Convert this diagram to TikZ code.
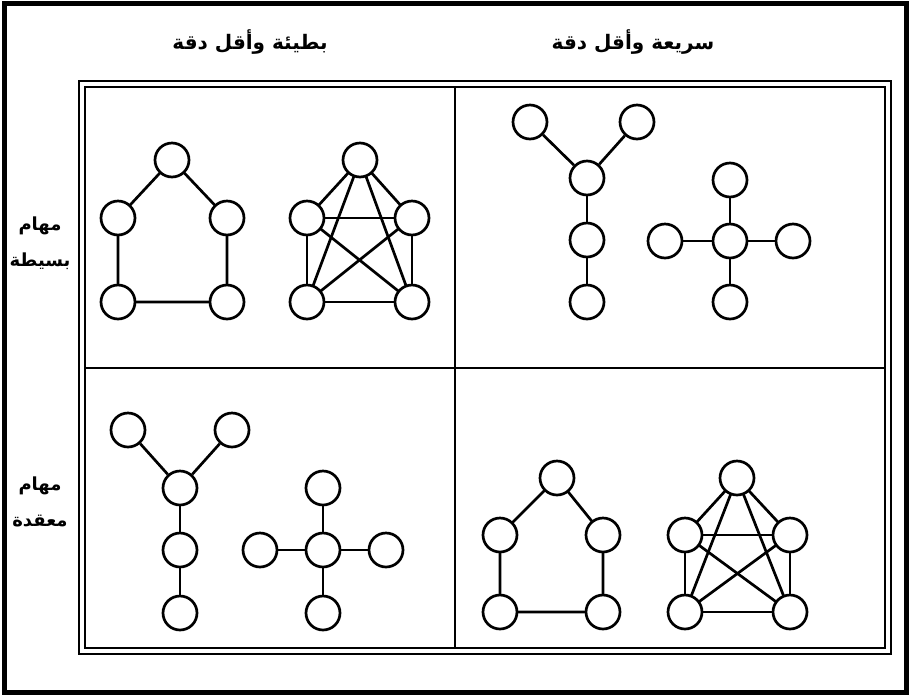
\documentclass[tikz,border=0pt]{standalone}
\usepackage{fontspec}
\TeXXeTstate=1
\newfontfamily\arabicfont[Script=Arabic]{DejaVu Sans}

\tikzset{
  vertex/.style={draw, circle, line width=2.7pt, minimum size=34pt, inner sep=0pt, fill=white},
  edge/.style={line width=2.7pt},
  label_ar/.style={font=\arabicfont\bfseries\fontsize{20}{26}\selectfont, align=center},
  side_ar/.style={font=\arabicfont\bfseries\fontsize{18}{36}\selectfont, align=center}
}

\begin{document}
\begin{tikzpicture}[x=1pt, y=-1pt]
\useasboundingbox (0,0) rectangle (910,697);
\draw[line width=5pt] (4,3) rectangle (906,692);
% double frame and quadrants
\draw[line width=2.2pt] (79,81) rectangle (891,654);
\draw[line width=2.2pt] (85,87) rectangle (885,648);
\draw[line width=2.2pt] (455,87) -- (455,648);
\draw[line width=2.2pt] (85,368) -- (885,368);

% headings
\node[label_ar] (slow_head) at (250,42) {\beginR بطيئة وأقل دقة\endR};
\node[label_ar] (fast_head) at (633,42) {\beginR سريعة وأقل دقة\endR};
\node[side_ar] (simple_tasks) at (40,243) {\beginR مهام\endR\\\beginR بسيطة\endR};
\node[side_ar] (complex_tasks) at (40,502) {\beginR مهام\endR\\\beginR معقدة\endR};

% top left: circle
\draw[edge] (172,160) -- (118,218) -- (118,302) -- (227,302) -- (227,218) -- cycle;
\node[vertex] (tl_c1) at (172,160) {};
\node[vertex] (tl_c2) at (118,218) {};
\node[vertex] (tl_c3) at (227,218) {};
\node[vertex] (tl_c4) at (118,302) {};
\node[vertex] (tl_c5) at (227,302) {};

% top left: all channels
\coordinate (tl_k1) at (360,160);
\coordinate (tl_k2) at (307,218);
\coordinate (tl_k3) at (412,218);
\coordinate (tl_k4) at (307,302);
\coordinate (tl_k5) at (412,302);
\foreach \a/\b in {1/2,1/3,1/4,1/5,2/3,2/4,2/5,3/4,3/5,4/5}
  \draw[edge] (tl_k\a) -- (tl_k\b);
\foreach \i in {1,...,5}
  \node[vertex] (tl_kn\i) at (tl_k\i) {};

% top right: Y
\node[vertex] (tr_y1) at (530,122) {};
\node[vertex] (tr_y2) at (637,122) {};
\node[vertex] (tr_y3) at (587,178) {};
\node[vertex] (tr_y4) at (587,240) {};
\node[vertex] (tr_y5) at (587,302) {};
\draw[edge] (tr_y1) -- (tr_y3);
\draw[edge] (tr_y2) -- (tr_y3);
\draw[edge] (tr_y3) -- (tr_y4);
\draw[edge] (tr_y4) -- (tr_y5);

% top right: wheel
\node[vertex] (tr_s0) at (730,241) {};
\node[vertex] (tr_s1) at (730,180) {};
\node[vertex] (tr_s2) at (730,302) {};
\node[vertex] (tr_s3) at (665,241) {};
\node[vertex] (tr_s4) at (793,241) {};
\foreach \i in {1,...,4}
  \draw[edge] (tr_s0) -- (tr_s\i);

% bottom left: Y
\node[vertex] (bl_y1) at (128,430) {};
\node[vertex] (bl_y2) at (232,430) {};
\node[vertex] (bl_y3) at (180,488) {};
\node[vertex] (bl_y4) at (180,550) {};
\node[vertex] (bl_y5) at (180,613) {};
\draw[edge] (bl_y1) -- (bl_y3);
\draw[edge] (bl_y2) -- (bl_y3);
\draw[edge] (bl_y3) -- (bl_y4);
\draw[edge] (bl_y4) -- (bl_y5);

% bottom left: wheel
\node[vertex] (bl_s0) at (323,550) {};
\node[vertex] (bl_s1) at (323,488) {};
\node[vertex] (bl_s2) at (323,613) {};
\node[vertex] (bl_s3) at (260,550) {};
\node[vertex] (bl_s4) at (386,550) {};
\foreach \i in {1,...,4}
  \draw[edge] (bl_s0) -- (bl_s\i);

% bottom right: circle
\draw[edge] (557,478) -- (500,535) -- (500,612) -- (603,612) -- (603,535) -- cycle;
\node[vertex] (br_c1) at (557,478) {};
\node[vertex] (br_c2) at (500,535) {};
\node[vertex] (br_c3) at (603,535) {};
\node[vertex] (br_c4) at (500,612) {};
\node[vertex] (br_c5) at (603,612) {};

% bottom right: all channels
\coordinate (br_k1) at (737,478);
\coordinate (br_k2) at (685,535);
\coordinate (br_k3) at (790,535);
\coordinate (br_k4) at (685,612);
\coordinate (br_k5) at (790,612);
\foreach \a/\b in {1/2,1/3,1/4,1/5,2/3,2/4,2/5,3/4,3/5,4/5}
  \draw[edge] (br_k\a) -- (br_k\b);
\foreach \i in {1,...,5}
  \node[vertex] (br_kn\i) at (br_k\i) {};
\end{tikzpicture}
\end{document}
